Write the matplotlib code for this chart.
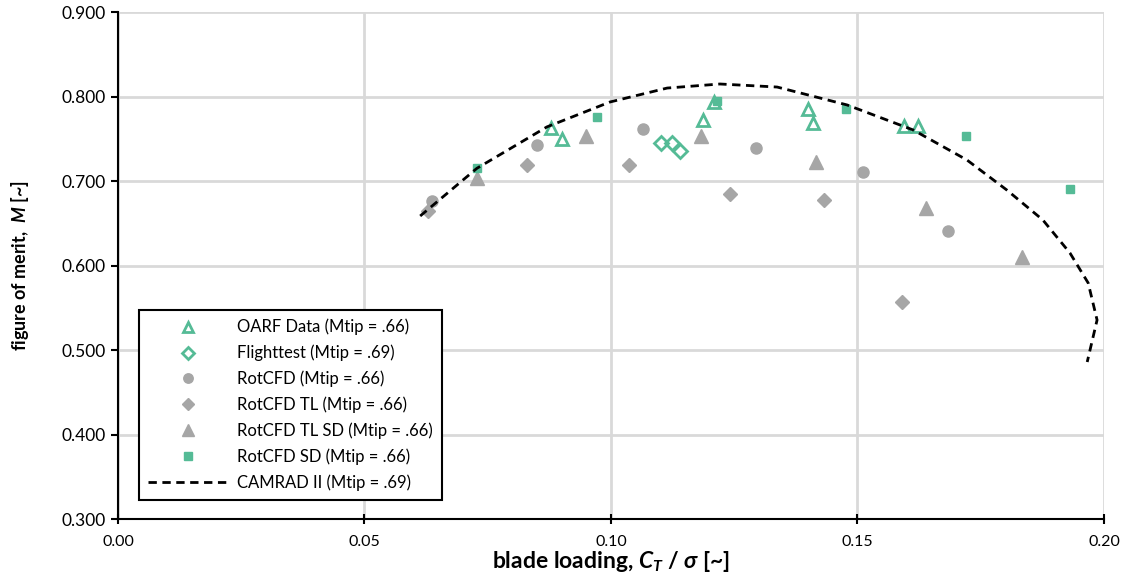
import numpy as np
import matplotlib
matplotlib.use('Agg')
import matplotlib.pyplot as plt

plt.rcParams['font.family'] = ['Lato', 'DejaVu Sans']
plt.rcParams['mathtext.fontset'] = 'custom'
plt.rcParams['mathtext.rm'] = 'Lato:bold'
plt.rcParams['mathtext.it'] = 'Lato:bold:italic'
plt.rcParams['mathtext.fallback'] = 'stixsans'

# data
oarf_x = [0.0878, 0.0901, 0.1187, 0.1209, 0.1400, 0.1410, 0.1594, 0.1623]
oarf_y = [0.7627, 0.7497, 0.7722, 0.7935, 0.7852, 0.7686, 0.7651, 0.7651]

flight_x = [0.1101, 0.1124, 0.1140]
flight_y = [0.7450, 0.7450, 0.7355]

rc_x = [0.0637, 0.0850, 0.1065, 0.1294, 0.1511, 0.1684]
rc_y = [0.6763, 0.7426, 0.7615, 0.7390, 0.7107, 0.6408]

tl_x = [0.0629, 0.0830, 0.1037, 0.1241, 0.1432, 0.1590]
tl_y = [0.6645, 0.7189, 0.7189, 0.6846, 0.6775, 0.5568]

tlsd_x = [0.0728, 0.0949, 0.1183, 0.1416, 0.1639, 0.1834]
tlsd_y = [0.7036, 0.7533, 0.7533, 0.7225, 0.6680, 0.6100]

sd_x = [0.0728, 0.0972, 0.1215, 0.1477, 0.1720, 0.1931]
sd_y = [0.7154, 0.7757, 0.7947, 0.7852, 0.7533, 0.6905]

cam_x = [0.0613, 0.0728, 0.0870, 0.0998, 0.1114, 0.1221, 0.1337, 0.1479,
         0.1613, 0.1722, 0.1803, 0.1876, 0.1931, 0.1968, 0.1986, 0.1966]
cam_y = [0.6586, 0.7150, 0.7640, 0.7935, 0.8100, 0.8148, 0.8112, 0.7900,
         0.7604, 0.7249, 0.6893, 0.6539, 0.6148, 0.5793, 0.5355, 0.4858]

teal = '#55bb96'
gray = '#a6a6a6'

fig = plt.figure(figsize=(11.28, 5.77), dpi=100)
ax = fig.add_axes([0.1046, 0.1005, 0.8741, 0.8787])

ax.plot(oarf_x, oarf_y, ls='none', marker='^', ms=8, mfc='none', mec=teal, mew=2,
        label='OARF Data (Mtip = .66)', zorder=4)
ax.plot(flight_x, flight_y, ls='none', marker='D', ms=7, mfc='none', mec=teal, mew=2,
        label='Flighttest (Mtip = .69)', zorder=4)
ax.plot(rc_x, rc_y, ls='none', marker='o', ms=8, color=gray, label='RotCFD (Mtip = .66)', zorder=3)
ax.plot(tl_x, tl_y, ls='none', marker='D', ms=7, color=gray, label='RotCFD TL (Mtip = .66)', zorder=3)
ax.plot(tlsd_x, tlsd_y, ls='none', marker='^', ms=10, color=gray, label='RotCFD TL SD (Mtip = .66)', zorder=3)
ax.plot(sd_x, sd_y, ls='none', marker='s', ms=6, color=teal, label='RotCFD SD (Mtip = .66)', zorder=4)
ax.plot(cam_x, cam_y, color='black', lw=2, ls=(0, (3, 2)), label='CAMRAD II (Mtip = .69)', zorder=5)

ax.set_xlim(0, 0.2)
ax.set_ylim(0.3, 0.9)
ax.set_xticks(np.arange(0, 0.201, 0.05))
ax.set_yticks(np.arange(0.3, 0.901, 0.1))
ax.set_xticklabels(['%.2f' % v for v in np.arange(0, 0.201, 0.05)])
ax.set_yticklabels(['%.3f' % v for v in np.arange(0.3, 0.901, 0.1)])
ax.grid(True, color='#d9d9d9', lw=2, zorder=0)
ax.set_axisbelow(True)

for s in ['top', 'right']:
    ax.spines[s].set_visible(False)
for s in ['left', 'bottom']:
    ax.spines[s].set_linewidth(1.5)
ax.tick_params(axis='y', direction='out', length=5, width=1.5, labelsize=12.5, pad=4)
ax.tick_params(axis='x', direction='inout', length=7, width=1.5, labelsize=11.5, pad=8)

ax.set_xlabel(r'blade loading, $C_T$ / $\sigma$ [~]', fontsize=16.5, fontweight='bold', labelpad=0)
ax.set_ylabel(r'figure of merit,  $M$ [~]', fontsize=13, fontweight='bold', labelpad=22)

leg = ax.legend(loc='lower left', bbox_to_anchor=(0.0213, 0.0375), borderaxespad=0,
                fancybox=False, framealpha=1, edgecolor='black', fontsize=12,
                handlelength=4.8, handletextpad=0.55, labelspacing=0.56,
                borderpad=0.55, markerscale=0.85)
leg.get_frame().set_linewidth(1.5)

fig.savefig('out.png', dpi=100)
